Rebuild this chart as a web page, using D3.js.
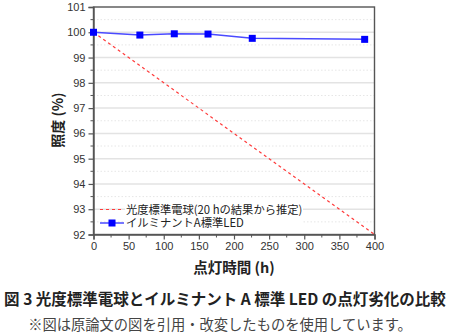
<!DOCTYPE html>
<html><head><meta charset="utf-8">
<script src="https://cdn.jsdelivr.net/npm/d3@7"></script>
<style>
body{margin:0;background:#fff;}
svg{display:block;font-family:"Noto Sans CJK JP","Noto Sans",sans-serif;}
</style></head>
<body><svg id="c" width="450" height="334"></svg>
<script>
const ledHours = [0, 66, 115, 163, 226, 386];
const ledValues = [100, 99.89, 99.94, 99.93, 99.76, 99.72];
const bulbHours = [0, 400];
const bulbValues = [100, 92];
const xTicks = [0, 50, 100, 150, 200, 250, 300, 350, 400];
const yTicks = [92, 93, 94, 95, 96, 97, 98, 99, 100, 101];
const legendLabels = ["光度標準電球(20 hの結果から推定)", "イルミナントA標準LED"];
const xTitle = "点灯時間 (h)";
const yTitle = "照度 (%)";
const caption1 = "図 3 光度標準電球とイルミナント A 標準 LED の点灯劣化の比較";
const caption2 = "※図は原論文の図を引用・改変したものを使用しています。";

const svg = d3.select("#c");
const L = 93.5, R = 374.5, T = 7, B = 234.5;
const x = d3.scaleLinear().domain([0, 400]).range([L, R]);
const y = d3.scaleLinear().domain([92, 101]).range([B, T]);

// grid
const minorY = d3.range(92.5, 101, 1);
svg.append("g").selectAll("line").data(minorY).join("line")
  .attr("x1", L).attr("x2", R).attr("y1", d => y(d)).attr("y2", d => y(d))
  .attr("stroke", "#e6e6e6").attr("stroke-width", 1).attr("stroke-dasharray", "1.5,2");
svg.append("g").selectAll("line").data(yTicks.slice(1, -1)).join("line")
  .attr("x1", L).attr("x2", R).attr("y1", d => y(d)).attr("y2", d => y(d))
  .attr("stroke", "#e3e3e3").attr("stroke-width", 1.5);

// frame
svg.append("rect").attr("x", L).attr("y", T).attr("width", R - L).attr("height", B - T)
  .attr("fill", "none").attr("stroke", "#555").attr("stroke-width", 1.4);

// axes
const yAxis = d3.axisLeft(y).tickValues(yTicks).tickSize(5).tickPadding(3).tickFormat(d3.format("d"));
const gy = svg.append("g").attr("transform", `translate(${L},0)`).call(yAxis);
const xAxis = d3.axisBottom(x).tickValues(xTicks).tickSize(5).tickPadding(3).tickFormat(d3.format("d"));
const gx = svg.append("g").attr("transform", `translate(0,${B})`).call(xAxis);
[gy, gx].forEach(g => {
  g.select(".domain").attr("stroke", "#555").attr("stroke-width", 1.4);
  g.selectAll(".tick line").attr("stroke", "#555").attr("stroke-width", 1.2);
  g.selectAll(".tick text").attr("fill", "#333").attr("font-size", 11)
    .attr("font-family", "Liberation Sans, Arial, sans-serif");
});
// minor ticks
svg.append("g").selectAll("line").data(minorY).join("line")
  .attr("x1", L - 3).attr("x2", L).attr("y1", d => y(d)).attr("y2", d => y(d))
  .attr("stroke", "#555").attr("stroke-width", 1);
svg.append("g").selectAll("line").data(d3.range(25, 400, 50)).join("line")
  .attr("x1", d => x(d)).attr("x2", d => x(d)).attr("y1", B).attr("y2", B + 3)
  .attr("stroke", "#555").attr("stroke-width", 1);

// bulb dashed line
const line = d3.line().x(d => x(d[0])).y(d => y(d[1]));
svg.append("path").datum(d3.zip(bulbHours, bulbValues)).attr("d", line)
  .attr("fill", "none").attr("stroke", "#ff3b3b").attr("stroke-width", 1.2).attr("stroke-dasharray", "3,3");

// LED line
const ledData = d3.zip(ledHours, ledValues);
svg.append("path").datum(ledData).attr("d", line)
  .attr("fill", "none").attr("stroke", "#4a4aff").attr("stroke-width", 1.5);
svg.append("g").selectAll("rect").data(ledData).join("rect")
  .attr("x", d => x(d[0]) - 3.5).attr("y", d => y(d[1]) - 3.5)
  .attr("width", 7).attr("height", 7).attr("fill", "#0000ff");

// legend
const lg = svg.append("g");
const ly1 = 209.5, ly2 = 223;
lg.append("rect").attr("x", 125).attr("y", ly1 - 7).attr("width", 178).attr("height", 27).attr("fill", "#fff");
lg.append("line").attr("x1", 100).attr("x2", 124).attr("y1", ly1).attr("y2", ly1)
  .attr("stroke", "#ff3b3b").attr("stroke-width", 1.2).attr("stroke-dasharray", "3,3");
lg.append("line").attr("x1", 100).attr("x2", 124).attr("y1", ly2).attr("y2", ly2)
  .attr("stroke", "#4a4aff").attr("stroke-width", 1.5);
lg.append("rect").attr("x", 112 - 3.5).attr("y", ly2 - 3.5).attr("width", 7).attr("height", 7).attr("fill", "#0000ff");
lg.selectAll("text").data(legendLabels).join("text")
  .attr("x", 126).attr("y", (d, i) => i ? ly2 : ly1).attr("dy", "0.36em")
  .attr("font-size", 11.3).attr("fill", "#222").text(d => d);

// axis titles
svg.append("text").attr("x", 234).attr("y", 268).attr("dy", "0.36em").attr("text-anchor", "middle")
  .attr("font-size", 14.5).attr("font-weight", "bold").attr("fill", "#222").text(xTitle);
svg.append("text").attr("transform", "translate(58,120) rotate(-90)").attr("dy", "0.36em").attr("text-anchor", "middle")
  .attr("font-size", 14).attr("font-weight", "bold").attr("fill", "#222").text(yTitle);

// captions, fitted to reference widths
function fitText(sel, target) {
  let fs = +sel.attr("font-size");
  const w = sel.node().getComputedTextLength();
  sel.attr("font-size", fs * target / w);
}
const c1 = svg.append("text").attr("x", 225).attr("y", 299).attr("dy", "0.36em").attr("text-anchor", "middle")
  .attr("font-size", 16).attr("font-weight", "bold").attr("fill", "#222").text(caption1);
fitText(c1, 442);
const c2 = svg.append("text").attr("x", 220).attr("y", 325).attr("dy", "0.36em").attr("text-anchor", "middle")
  .attr("font-size", 14).attr("fill", "#444").text(caption2);
fitText(c2, 384);
</script></body></html>
